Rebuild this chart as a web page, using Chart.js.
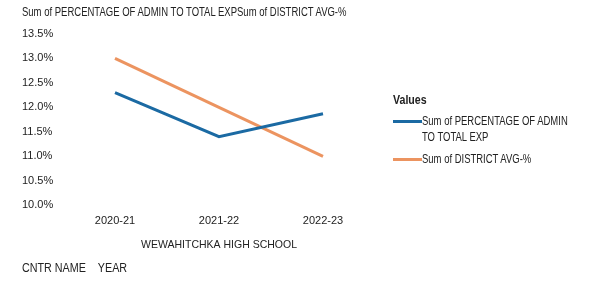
<!DOCTYPE html>
<html><head><meta charset="utf-8">
<script src="https://cdn.jsdelivr.net/npm/chart.js@4/dist/chart.umd.min.js"></script>
<style>
html,body{margin:0;padding:0;background:#fff;}
#wrap{position:relative;width:592px;height:283px;font-family:"Liberation Sans",Arial,sans-serif;color:#222;}
canvas{position:absolute;left:0;top:0;}
.t{position:absolute;white-space:nowrap;font-size:12px;transform-origin:0 0;}
#legend{position:absolute;left:393px;top:93px;font-size:12px;}
#legend .h{font-weight:bold;font-size:12.5px;margin-bottom:6px;transform:scaleX(0.85);transform-origin:0 0;}
.item{display:flex;align-items:flex-start;margin-bottom:6px;line-height:16px;white-space:nowrap;}
.sw{width:29px;height:3px;margin-top:7px;flex:none;}
.lt{transform:scaleX(0.79);transform-origin:0 0;}
</style></head>
<body>
<div id="wrap">
<canvas id="c" width="592" height="283"></canvas>
<div class="t" id="title" style="left:22px;top:5px;font-size:12.5px;transform:scaleX(0.76);"></div>
<div id="legend"></div>
<div class="t" id="bottom" style="left:22px;top:261px;font-size:12.5px;transform:scaleX(0.86);"></div>
</div>
<script>
const categories = ["2020-21", "2021-22", "2022-23"];
const groupLabel = "WEWAHITCHKA HIGH SCHOOL";
const seriesNames = ["Sum of PERCENTAGE OF ADMIN TO TOTAL EXP", "Sum of DISTRICT AVG-%"];
const adminPct = [12.3, 11.4, 11.87];
const districtAvg = [13.0, 12.0, 11.0];
const yTicks = [10.0, 10.5, 11.0, 11.5, 12.0, 12.5, 13.0, 13.5];
const colors = ["#1b6aa3", "#ec9460"];

document.getElementById('title').textContent = seriesNames[0] + seriesNames[1];
document.getElementById('bottom').innerHTML = 'CNTR NAME&nbsp;&nbsp;&nbsp;&nbsp;YEAR';
const lg = document.getElementById('legend');
lg.innerHTML = '<div class="h">Values</div>' +
  '<div class="item"><div class="sw" style="background:'+colors[0]+'"></div><div class="lt">Sum of PERCENTAGE OF ADMIN<br>TO TOTAL EXP</div></div>' +
  '<div class="item"><div class="sw" style="background:'+colors[1]+'"></div><div class="lt">Sum of DISTRICT AVG-%</div></div>';

const F = '"Liberation Sans",Arial';
new Chart(document.getElementById('c'), {
  type: 'line',
  data: {
    labels: categories,
    datasets: [
      {label: seriesNames[0], data: adminPct, borderColor: colors[0], backgroundColor: colors[0], borderWidth: 3, pointRadius: 0, tension: 0},
      {label: seriesNames[1], data: districtAvg, borderColor: colors[1], backgroundColor: colors[1], borderWidth: 3, pointRadius: 0, tension: 0}
    ]
  },
  options: {
    responsive: false,
    animation: false,
    layout: {padding: {left: 22, right: 217, top: 34, bottom: 29}},
    plugins: {legend: {display: false}, tooltip: {enabled: false}},
    scales: {
      x: {
        offset: true,
        grid: {display: false, drawTicks: false},
        border: {display: false},
        ticks: {color: '#222', padding: 9, font: {family: F, size: 11}},
        title: {display: true, text: groupLabel, color: '#222', padding: {top: 2, bottom: 3}, font: {family: F, size: 10.5}}
      },
      y: {
        min: 10, max: 13.5,
        afterBuildTicks: (ax) => { ax.ticks = yTicks.map(v => ({value: v})); },
        afterFit: (ax) => { ax.width = 41; },
        grid: {display: false, drawTicks: false},
        border: {display: false},
        ticks: {color: '#222', crossAlign: 'far', padding: 8, font: {family: F, size: 11},
          callback: (v) => Number(v).toFixed(1) + '%'}
      }
    }
  }
});
</script>
</body></html>
